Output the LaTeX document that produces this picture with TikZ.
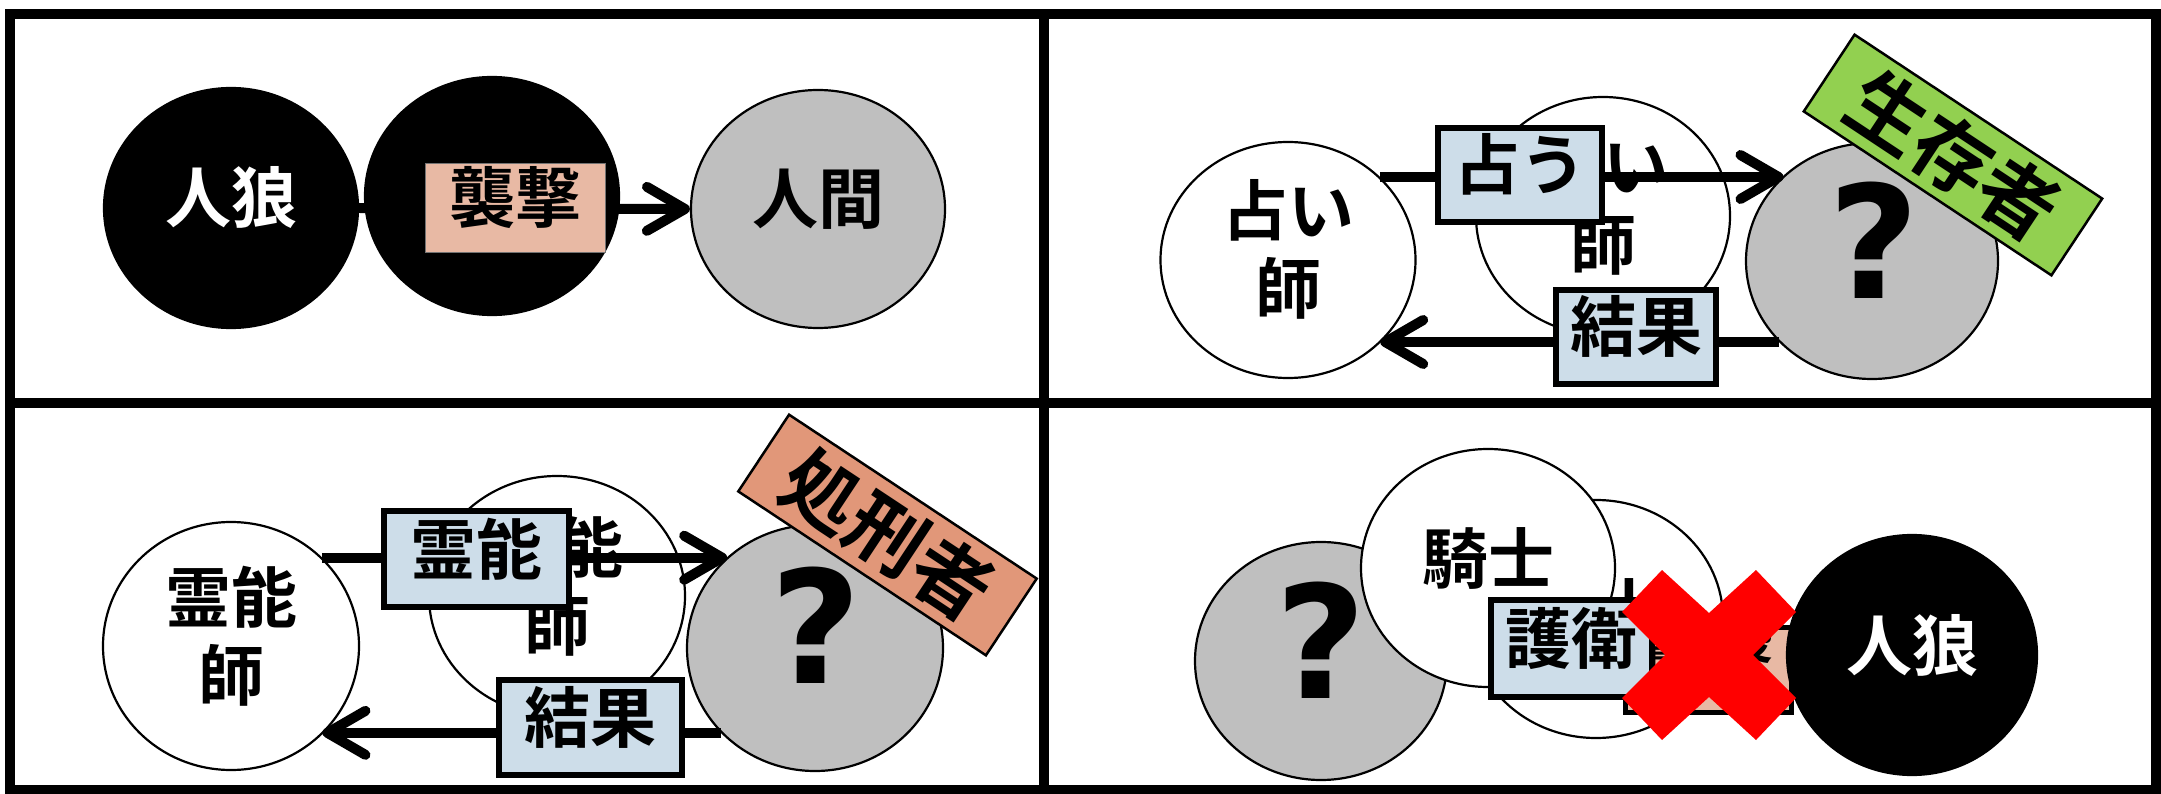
\documentclass[tikz,border=0pt]{standalone}
\usepackage{fontspec}
\newfontfamily\jp{Noto Sans CJK JP}[BoldFont={Noto Sans CJK JP Bold}]
\newfontfamily\qfont{DejaVu Sans}
\usetikzlibrary{shapes.geometric,arrows.meta}
\definecolor{grayfill}{RGB}{191,191,191}
\definecolor{bluebox}{RGB}{205,221,233}
\definecolor{salmonbox}{RGB}{232,185,164}
\definecolor{tagred}{RGB}{225,151,121}
\definecolor{taggreen}{RGB}{146,208,80}
\definecolor{xred}{RGB}{255,0,0}
\begin{document}
\begin{tikzpicture}[x=1pt,y=-1pt,
  every node/.style={font=\jp\bfseries\fontsize{66}{78}\selectfont, inner sep=0pt, align=center, text height=40pt, text depth=10pt},
  twoline/.style={text height=118pt, text depth=10pt},
  role/.style={ellipse, draw, line width=2.2pt, minimum width=254pt, minimum height=238pt},
  whiterole/.style={role, fill=white},
  grayrole/.style={role, fill=grayfill},
  blackrole/.style={role, fill=black, text=white},
  qmark/.style={font=\qfont\bfseries\fontsize{157}{157}\selectfont, text height=, text depth=},
  actbox/.style={rectangle, draw, line width=6pt, fill=bluebox, minimum height=94pt},
  atkbox/.style={rectangle, fill=salmonbox, draw=black!55, line width=1pt, minimum width=180pt, minimum height=89pt},
  atkboxk/.style={rectangle, fill=salmonbox, draw, line width=5pt, minimum width=166pt, minimum height=85pt},
  tag/.style={rectangle, draw, line width=2.5pt, minimum width=297pt, minimum height=92pt, rotate=-33.5, font=\jp\bfseries\fontsize{78}{78}\selectfont, text height=, text depth=},
  arr/.style={line width=10pt, -{Straight Barb[length=38pt,width=44pt,round]}},
  frameline/.style={line width=10pt}
]
\useasboundingbox (0,0) rectangle (2161,794);
\fill[white] (0,0) rectangle (2161,794);

% ---------- panel 1 ----------
\node[blackrole, minimum height=240pt] (wolfA) at (231,208) {人狼};
\node[grayrole] (human) at (818,209) {人間};
\draw[arr] (wolfA.east) -- (human.west);
\node[blackrole, text height=60pt] (wolfAghost) at (492,196) {人狼};
\node[atkbox] (attackA) at (515.5,208) {襲撃};

% ---------- panel 2 ----------
\node[whiterole, twoline, minimum width=255pt, minimum height=236pt] (seer) at (1288,260) {占い\\師};
\node[whiterole, twoline] (seerghost) at (1603,216) {占い\\師};
\node[grayrole, minimum width=252pt, minimum height=236pt] (targetB) at (1872,261) {};
\node[qmark] (qB) at (1874,240.5) {?};
\draw[arr] (seer.42.5) -- (seer.42.5 -| targetB.136.5);
\draw[arr] (targetB.221.5) -- (targetB.221.5 -| seer.318);
\node[actbox, minimum width=164pt] (divine) at (1520,175) {占う};
\node[actbox, minimum width=160pt] (resultB) at (1636,337) {結果};
\node[tag, fill=taggreen] (alive) at (1953,155) {生存者};

% ---------- panel 3 ----------
\node[whiterole, twoline, minimum width=256pt, minimum height=248pt] (medium) at (231,646) {霊能\\師};
\node[whiterole, twoline, minimum width=256pt, minimum height=240pt] (mediumghost) at (557,596) {霊能\\師};
\node[grayrole, minimum width=256pt, minimum height=246pt] (targetC) at (815,648) {};
\node[qmark] (qC) at (816,625) {?};
\draw[arr] (medium.44.4) -- (medium.44.4 -| targetC.134);
\draw[arr] (targetC.222.6) -- (targetC.222.6 -| medium.316.3);
\node[actbox, minimum width=185pt, minimum height=96pt] (spirit) at (476.5,559) {霊能};
\node[actbox, minimum width=183pt, minimum height=95pt] (resultC) at (590.5,727.5) {結果};
\node[tag, fill=tagred] (executed) at (887.5,535) {処刑者};

% ---------- panel 4 ----------
\node[grayrole, minimum width=252pt, minimum height=238pt] (targetD) at (1321,661) {};
\node[qmark] (qD) at (1321,640.5) {?};
\node[whiterole] (knightghost) at (1596,619) {騎士};
\node[whiterole] (knight) at (1488,568) {騎士};
\node[atkboxk] (attackD) at (1708.5,670) {襲撃};
\node[actbox, minimum width=161pt, minimum height=97pt] (guard) at (1571.5,648.5) {護衛};
\node[blackrole, minimum width=250pt, minimum height=240pt] (wolfD) at (1912,655) {人狼};
\fill[xred] (1622,612) -- (1662,570) -- (1709,613) -- (1756,570) -- (1796,612) -- (1753,655)
  -- (1796,698) -- (1756,740) -- (1709,697) -- (1662,740) -- (1622,698) -- (1665,655) -- cycle;

% ---------- frame ----------
\draw[frameline] (10,14.5) rectangle (2156,790);
\draw[frameline] (1044,14.5) -- (1044,790);
\draw[frameline] (10,403) -- (2156,403);
\end{tikzpicture}
\end{document}
